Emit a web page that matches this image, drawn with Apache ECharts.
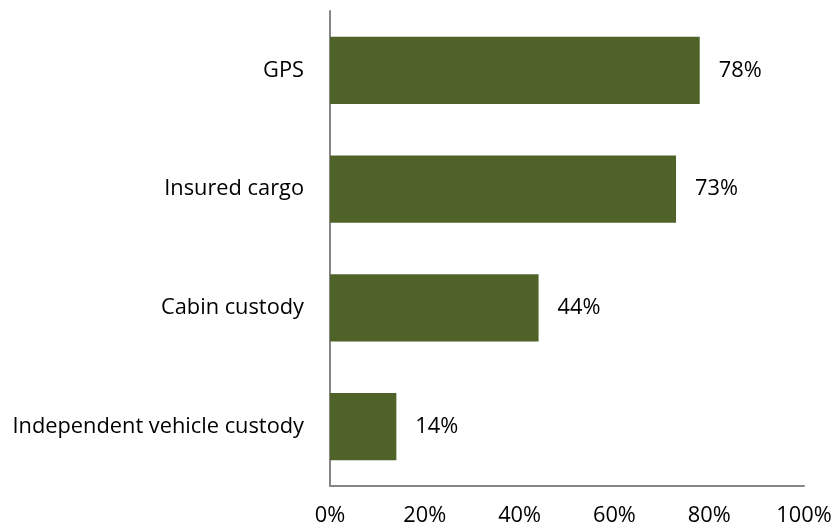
<!DOCTYPE html>
<html><head><meta charset="utf-8">
<script src="https://cdn.jsdelivr.net/npm/echarts@6/dist/echarts.min.js"></script>
<style>html,body{margin:0;padding:0;background:#fff}#c{width:837px;height:529px}</style>
</head><body><div id="c"></div>
<script>
const categories = ["Independent vehicle custody", "Cabin custody", "Insured cargo", "GPS"];
const values = [14, 44, 73, 78];
const xTicks = [0, 20, 40, 60, 80, 100];

const chart = echarts.init(document.getElementById('c'), null, {renderer: 'canvas'});
const font = 'Open Sans';
const fs = 21.8;
chart.setOption({
  animation: false,
  grid: {left: 330, right: 33, top: 11, bottom: 43, containLabel: false},
  xAxis: {
    type: 'value', min: xTicks[0], max: xTicks[xTicks.length - 1], interval: 20,
    axisLine: {show: true, lineStyle: {color: '#868686', width: 2}},
    axisTick: {show: false},
    splitLine: {show: false},
    axisLabel: {formatter: '{value}%', color: '#000', fontSize: fs, fontFamily: font, margin: 19}
  },
  yAxis: {
    type: 'category', data: categories,
    axisLine: {show: true, lineStyle: {color: '#868686', width: 2}},
    axisTick: {show: false},
    axisLabel: {color: '#000', fontSize: fs, fontFamily: font, margin: 26}
  },
  series: [{
    type: 'bar', data: values, barCategoryGap: '43.5%',
    itemStyle: {color: '#4F6228'},
    label: {show: true, position: 'right', distance: 19, formatter: '{c}%', color: '#000', fontSize: fs, fontFamily: font}
  }]
});
</script></body></html>
